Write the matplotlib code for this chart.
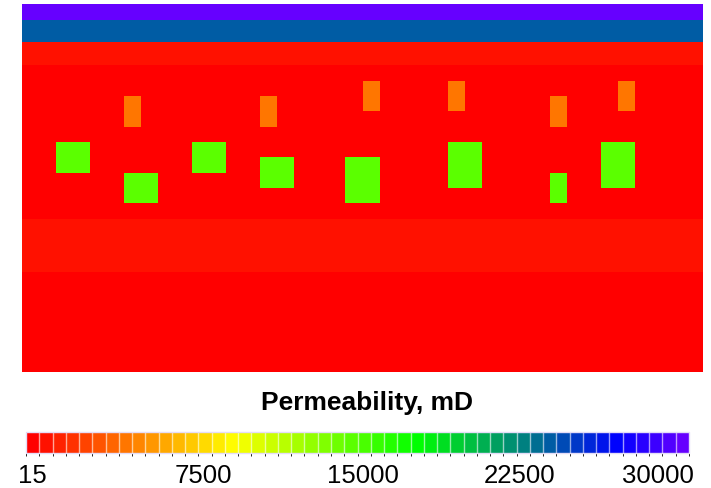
import numpy as np
import matplotlib
matplotlib.use("Agg")
import matplotlib.pyplot as plt
import matplotlib.transforms as mtransforms
from matplotlib.colors import LinearSegmentedColormap, BoundaryNorm
from matplotlib.cm import ScalarMappable

plt.rcParams['font.family'] = ['Liberation Sans', 'DejaVu Sans']

# permeability colour scale, mD
k_min = 15
k_max = 30000
n_levels = 50
scale_pos = [0.0, 0.31, 0.59, 0.755, 0.9, 1.0]
scale_colors = ["#ff0000", "#ffff00", "#00ff00", "#008080", "#0000ff", "#6600ff"]
tick_values = [15, 7500, 15000, 22500, 30000]
tick_labels = ["15", "7500", "15000", "22500", "30000"]

# model grid: 40 columns, layers listed top to bottom
n_cols = 40
layer_thickness = [16, 22, 23, 15.3, 15.3, 15.3, 15.3, 15.3,
                   15.3, 15.3, 15.3, 15.3, 15.3, 53, 100]
layer_perm = [30000, 24000, 900, 15, 15, 15, 15, 15,
              15, 15, 15, 15, 15, 900, 15]

# high-permeability inclusions (column range, layer range, value)
block_col0 = [6, 14, 20, 25, 31, 35, 2, 6, 10, 14, 19, 25, 31, 34]
block_col1 = [6, 14, 20, 25, 31, 35, 3, 7, 11, 15, 20, 26, 31, 35]
block_row0 = [5, 5, 4, 4, 5, 4, 8, 10, 8, 9, 9, 8, 10, 8]
block_row1 = [6, 6, 5, 5, 6, 5, 9, 11, 9, 10, 11, 10, 11, 10]
block_perm = [4400, 4400, 4400, 4400, 4400, 4400,
              14900, 14900, 14900, 14900, 14900, 14900, 14900, 14900]

grid = np.repeat(np.array(layer_perm, dtype=float)[:, None], n_cols, axis=1)
for c0, c1, r0, r1, k in zip(block_col0, block_col1, block_row0, block_row1, block_perm):
    grid[r0:r1 + 1, c0:c1 + 1] = k

x_edges = np.arange(n_cols + 1)
y_edges = np.concatenate([[0], np.cumsum(layer_thickness)])

cmap = LinearSegmentedColormap.from_list("perm", list(zip(scale_pos, scale_colors)), N=n_levels)
norm = BoundaryNorm(np.linspace(k_min, k_max, n_levels + 1), cmap.N)

fig = plt.figure(figsize=(7.11, 4.89), dpi=100)
ax = fig.add_axes([22 / 711, 1 - 373 / 489, 681 / 711, 368 / 489])
ax.pcolormesh(x_edges, y_edges, grid, cmap=cmap, norm=norm, edgecolors='none',
              antialiased=False)
ax.set_xlim(0, n_cols)
ax.set_ylim(y_edges[-1], 0)
ax.axis('off')

# colour bar
cax = fig.add_axes([26 / 711, 1 - 454 / 489, 663 / 711, 21 / 489])
cb = fig.colorbar(ScalarMappable(norm=norm, cmap=cmap), cax=cax,
                  orientation='horizontal', drawedges=True)
cb.dividers.set_color('white')
cb.dividers.set_linewidth(1.0)
cb.dividers.set_alpha(0.6)
cb.outline.set_edgecolor('#e4dcf7')
cb.outline.set_linewidth(1.0)
cax.set_xticks([])
cax.set_yticks([])

fig.text(367 / 711, 1 - 410 / 489, "Permeability, mD", ha='center', va='baseline',
         fontsize=19, fontweight='bold')

# labels sit a little off the exact tick positions, as in the original
label_tr = mtransforms.blended_transform_factory(cax.transData, fig.transFigure)
aligns = ['center', 'center', 'center', 'center', 'right']
shift_px = [6, 12, 6, -4, 5]
for v, lab, ha, dx in zip(tick_values, tick_labels, aligns, shift_px):
    tr = label_tr + mtransforms.Affine2D().translate(dx, 0)
    fig.text(v, 1 - 476 / 489, lab, ha=ha, va='center', fontsize=18.5, transform=tr)

fig.savefig("out.png", dpi=100)
